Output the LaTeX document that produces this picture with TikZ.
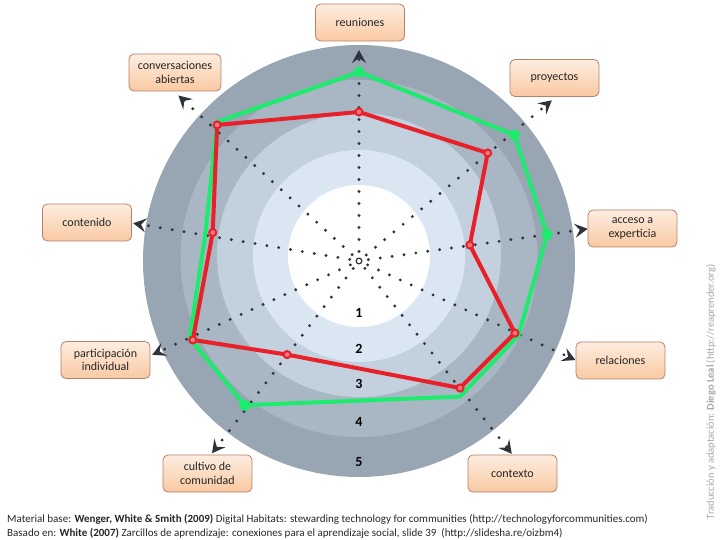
\documentclass[tikz,border=0pt]{standalone}
\usepackage{fontspec}
\setmainfont{Carlito}
\usetikzlibrary{positioning}
\usetikzlibrary{arrows.meta}
\tikzset{>={Stealth[length=13pt,width=14pt,inset=5pt]}}
\definecolor{ringA}{HTML}{98A6B4}
\definecolor{ringB}{HTML}{A9B6C3}
\definecolor{ringC}{HTML}{C3D0DD}
\definecolor{ringD}{HTML}{DAE7F3}
\definecolor{boxtop}{HTML}{FDEDE0}
\definecolor{boxbot}{HTML}{F9C9A2}
\definecolor{boxline}{HTML}{B7806A}
\definecolor{dotgray}{HTML}{2E3339}
\definecolor{linered}{HTML}{E8202A}
\definecolor{linegreen}{HTML}{1CEB6E}
\tikzset{
	% label boxes
	lbl/.style={draw=boxline,line width=0.8pt,rounded corners=5pt,top color=boxtop,bottom color=boxbot,
		minimum width=89pt,minimum height=37pt,align=center,text=black!85,
		font=\fontsize{12}{13.5}\selectfont},
	% dotted spokes
	spoke/.style={->,dotgray,line width=3.2pt,line cap=round,dash pattern=on 0pt off 12pt,shorten <=6pt},
	% data lines
	redline/.style={linered,line width=4pt,line join=round},
	greenline/.style={linegreen,line width=4pt,line join=round},
	redmark/.style={circle,draw=linered,line width=2pt,fill=linered!60,inner sep=2.5pt},
	greenmark/.style={circle,fill=linegreen,inner sep=4pt},
	ringnum/.style={font=\fontsize{14}{14}\bfseries\selectfont},
	foot/.style={anchor=west,inner sep=0pt,text=black!85,font=\fontsize{11}{12}\selectfont},
}
\begin{document}
\begin{tikzpicture}[x=1pt,y=1pt]
\useasboundingbox (-359,-279) rectangle (361,261);
% the rings
\fill[ringA] (0,0) circle (216);
\fill[ringB] (0,2.5) circle (178.5);
\fill[ringC] (0,6) circle (142);
\fill[ringD] (0,5) circle (106);
\fill[white] (0,5) circle (71);
% ring numbers
\foreach \k/\y in {1/-52,2/-88,3/-123,4/-161,5/-201}
  \node[ringnum] (n\k) at (0,\y) {\k};
% centre and spoke ends
\node[circle,draw=dotgray,line width=1.2pt,inner sep=2pt] (c) at (0,0) {};
\foreach \n/\a/\d in {reu/90/211,pro/39.8/251,acc/8/231,rel/335.4/238,ctx/308.4/246,
                      cul/232.6/242,par/204.4/227,con/170.5/229,cab/137.5/245}
  \coordinate (t\n) at (\a:\d);
\foreach \n in {reu,pro,acc,rel,ctx,cul,par,con,cab}
  \draw[spoke] (c) -- (t\n);
% green profile
\foreach \a/\r [count=\i] in {90/189,39/200,8/190,335/176,306.6/169,231.6/184,204.5/186,170/156,135.6/198.7}
  \coordinate (g\i) at (\a:\r);
\draw[greenline] (g1) -- (g2) -- (g3) -- (g4) -- (g5) -- (g6) -- (g7) -- (g8) -- (g9) -- cycle;
\foreach \i in {1,2,3,6}
  \node[greenmark] at (g\i) {};
% red profile
\foreach \a/\r [count=\i] in {90/149,40/168,8.2/112,335.2/171.8,308.5/162.3,232.5/118,205.4/184,169/149,136.2/196.6}
  \coordinate (r\i) at (\a:\r);
\draw[redline] (r1) -- (r2) -- (r3) -- (r4) -- (r5) -- (r6) -- (r7) -- (r8) -- (r9) -- cycle;
\foreach \i in {1,...,9}
  \node[redmark] at (r\i) {};
% labels
\node[lbl] (reu) at (1,238.5) {reuniones};
\node[lbl,minimum width=92pt] (cab) at (-184,188.5) {conversaciones\\abiertas};
\node[lbl] (pro) at (195.5,183) {proyectos};
\node[lbl] (acc) at (273.5,32.5) {acceso a\\experticia};
\node[lbl] (rel) at (261.5,-99.5) {relaciones};
\node[lbl] (ctx) at (153.5,-212.5) {contexto};
\node[lbl] (cul) at (-151.5,-212.5) {cultivo de\\comunidad};
\node[lbl] (par) at (-253.5,-99) {participación\\individual};
\node[lbl] (con) at (-272,38.5) {contenido};
% sources
\node[foot] (src1) at (-352,-258) {Material base: \textbf{Wenger, White \& Smith (2009)} Digital Habitats: stewarding technology for communities (http://technologyforcommunities.com)};
\node[foot] (src2) at (-352,-272) {Basado en: \textbf{White (2007)} Zarcillos de aprendizaje: conexiones para el aprendizaje social, slide 39~~(http://slidesha.re/oizbm4)};
\node[rotate=90,text=black!35,font=\fontsize{10.5}{11}\selectfont] (cred) at (352,-131) {Traducción y adaptación: \textbf{Diego Leal} (http://reaprender.org)};
\end{tikzpicture}
\end{document}
